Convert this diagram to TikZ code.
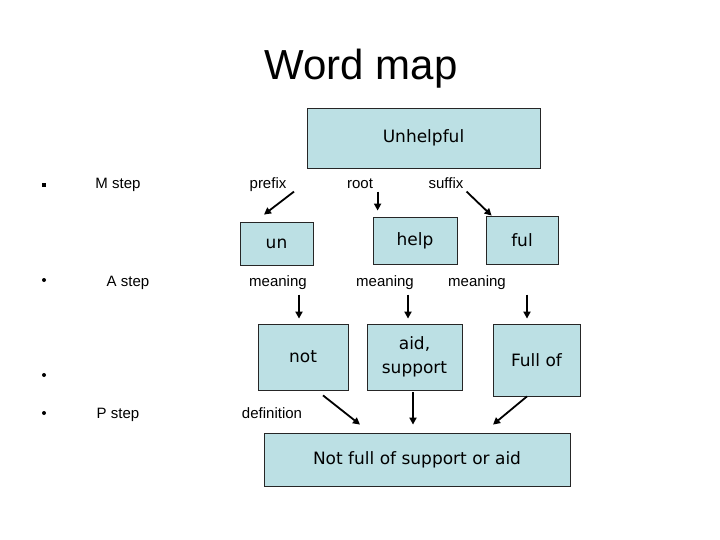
\documentclass[tikz,border=0pt]{standalone}
\usepackage{fontspec}
\setmainfont{Liberation Sans}
\newfontfamily\comicfont{DejaVu Sans}
\usetikzlibrary{arrows.meta}
\definecolor{boxblue}{RGB}{188,224,228}

\begin{document}
\begin{tikzpicture}[x=1pt, y=-1pt,
	wordbox/.style={draw=black!85, fill=boxblue, line width=0.8pt, inner sep=0pt, align=center, font=\comicfont\fontsize{17}{24}\selectfont},
	lbl/.style={inner sep=0pt, anchor=base, font=\fontsize{15}{18}\selectfont},
	arr/.style={-{Triangle[length=7pt,width=7pt]}, line width=1.8pt}]
			%%%%% START %%%%%
			\useasboundingbox (0,0) rectangle (720,540);
			
			\node[inner sep=0pt, anchor=base, font=\fontsize{42}{50}\selectfont] (title) at (361,80) {Word map};
			
			\node[wordbox, minimum width=233pt, minimum height=60pt] (word) at (423.5,138) {Unhelpful};
			
			\node[lbl] (prefix) at (268,189) {prefix};
			\node[lbl] (root) at (360,189) {root};
			\node[lbl] (suffix) at (446,189) {suffix};
			
			\node[wordbox, minimum width=73pt, minimum height=43pt] (un) at (276.5,243.5) {un};
			\node[wordbox, minimum width=84pt, minimum height=47pt] (help) at (415,240.5) {help};
			\node[wordbox, minimum width=72pt, minimum height=48pt] (ful) at (522,240) {ful};
			
			\draw[arr] ([xshift=17.5pt, yshift=30pt]un.north) -- ([xshift=-12.5pt, yshift=7pt]un.north);
			\draw[arr] ([xshift=5pt, yshift=25pt]help.north west) -- ([xshift=5pt, yshift=6pt]help.north west);
			\draw[arr] ([xshift=-19pt, yshift=24pt]ful.north west) -- ([xshift=6pt, yshift=0pt]ful.north west);
			
			\node[lbl] (mean1) at (278,286) {meaning};
			\node[lbl] (mean2) at (385,286) {meaning};
			\node[lbl] (mean3) at (477,286) {meaning};
			
			\node[wordbox, minimum width=90pt, minimum height=66pt] (not) at (303,357) {not};
			\node[wordbox, minimum width=95pt, minimum height=66pt] (aid) at (414.5,357) {aid,\\support};
			\node[wordbox, minimum width=87pt, minimum height=72pt] (fullof) at (536.5,360) {Full of};
			
			\draw[arr] ([xshift=-4pt, yshift=29pt]not.north) -- ([xshift=-4pt, yshift=5pt]not.north);
			\draw[arr] ([xshift=-6.5pt, yshift=29pt]aid.north) -- ([xshift=-6.5pt, yshift=5pt]aid.north);
			\draw[arr] ([xshift=-9.5pt, yshift=29pt]fullof.north) -- ([xshift=-9.5pt, yshift=5pt]fullof.north);
			
			\node[lbl] (defn) at (272,418) {definition};
			
			\node[wordbox, minimum width=306pt, minimum height=53pt] (meaning) at (417,459.5) {Not full of support or aid};
			
			\draw[arr] ([xshift=20pt, yshift=-5pt]not.south) -- ([xshift=-57pt, yshift=8pt]meaning.north);
			\draw[arr] ([xshift=-1.5pt, yshift=-2pt]aid.south) -- ([xshift=-4pt, yshift=8pt]meaning.north);
			\draw[arr] ([xshift=-9.5pt]fullof.south) -- ([xshift=76pt, yshift=8pt]meaning.north);
			
			% left column
			\fill (42,183) rectangle (46,187);
			\fill (44,280) circle (2);
			\fill (44,375) circle (2);
			\fill (44,413) circle (2);
			\node[lbl] (mstep) at (118,189) {M step};
			\node[lbl] (astep) at (128,286) {A step};
			\node[lbl] (pstep) at (118,418) {P step};
			
			%%%%% END %%%%%
\end{tikzpicture}
\end{document}
